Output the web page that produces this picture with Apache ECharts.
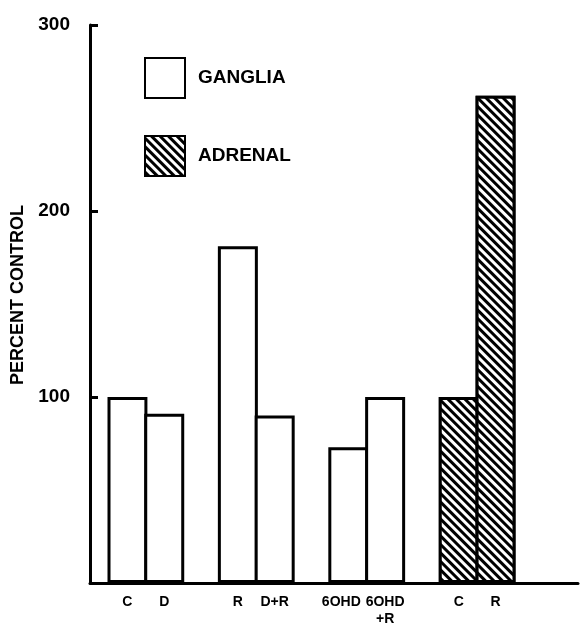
<!DOCTYPE html>
<html>
<head>
<meta charset="utf-8">
<script src="https://cdn.jsdelivr.net/npm/echarts@6/dist/echarts.min.js"></script>
<style>html,body{margin:0;padding:0;background:#fff;}#c{width:581px;height:626px;}</style>
</head>
<body>
<div id="c"></div>
<script>
// categories (blank entries are spacing gaps between groups)
const categories = ['C', 'D', '', 'R', 'D+R', '', '6OHD', '6OHD\n+R', '', 'C', 'R'];
const gangliaValues = [100, 91, '-', 181, 90, '-', 73, 100, '-', '-', '-'];
const adrenalValues = ['-', '-', '-', '-', '-', '-', '-', '-', '-', 100, 262];
const yTicks = [100, 200, 300];
const yName = 'PERCENT CONTROL';
const legendNames = ['GANGLIA', 'ADRENAL'];

const font = 'Liberation Sans, Arial, sans-serif';
const chart = echarts.init(document.getElementById('c'), null, {renderer: 'canvas'});
const stripe = {
  color: '#000',
  backgroundColor: '#fff',
  symbol: 'rect',
  dashArrayX: [1, 0],
  dashArrayY: [2.2, 2.2],
  rotation: Math.PI / 4,
  symbolSize: 1
};
// axis data built from categories; the lone '6OHD' label sits a bit left as in the original
const axisData = categories.map(c => c === '6OHD'
  ? {value: c, textStyle: {padding: [0, 14, 0, 0]}}
  : {value: c});
chart.setOption({
  animation: false,
  backgroundColor: '#fff',
  grid: [
    {left: 109, top: 25, bottom: 43, width: 405, outerBoundsMode: 'none', containLabel: false},
    {left: 90, top: 25, bottom: 43, right: 3, outerBoundsMode: 'none', containLabel: false}
  ],
  legend: {
    data: legendNames,
    orient: 'vertical',
    left: 144, top: 57, padding: 0,
    icon: 'rect',
    itemWidth: 40, itemHeight: 40, itemGap: 36,
    textStyle: {fontFamily: font, fontWeight: 'bold', fontSize: 19, color: '#000', padding: [0, 0, 0, 8]},
    selectedMode: false
  },
  xAxis: [
    {
      type: 'category', gridIndex: 0, data: axisData,
      axisLine: {show: false}, axisTick: {show: false},
      axisLabel: {fontFamily: font, fontWeight: 'bold', fontSize: 14, color: '#000', margin: 11, lineHeight: 17, interval: 0}
    },
    {
      type: 'value', gridIndex: 1, min: 0, max: 1,
      axisLine: {show: true, lineStyle: {color: '#000', width: 3}},
      axisTick: {show: false}, axisLabel: {show: false}, splitLine: {show: false}
    }
  ],
  yAxis: [
    {type: 'value', gridIndex: 0, min: 0, max: 300, show: false},
    {
      type: 'value', gridIndex: 1, min: 0, max: 300, interval: 100,
      name: yName, nameLocation: 'middle', nameGap: 55, nameRotate: 90,
      nameTextStyle: {fontFamily: font, fontWeight: 'bold', fontSize: 18, color: '#000', padding: [0, 0, 0, 18]},
      axisLine: {show: true, lineStyle: {color: '#000', width: 3}},
      axisTick: {show: true, inside: true, length: 8, lineStyle: {color: '#000', width: 3}},
      axisLabel: {
        fontFamily: font, fontWeight: 'bold', fontSize: 19, color: '#000', margin: 20,
        formatter: v => (yTicks.indexOf(v) >= 0 ? String(v) : '')
      },
      splitLine: {show: false}
    }
  ],
  series: [
    {
      name: 'GANGLIA', type: 'bar', xAxisIndex: 0, yAxisIndex: 0,
      stack: 'a', data: gangliaValues, barWidth: 40,
      itemStyle: {color: '#fff', borderColor: '#000', borderWidth: 3}
    },
    {
      name: 'ADRENAL', type: 'bar', xAxisIndex: 0, yAxisIndex: 0,
      stack: 'a', data: adrenalValues, barWidth: 40,
      itemStyle: {color: '#fff', borderColor: '#000', borderWidth: 3, decal: stripe}
    }
  ]
});
</script>
</body>
</html>
